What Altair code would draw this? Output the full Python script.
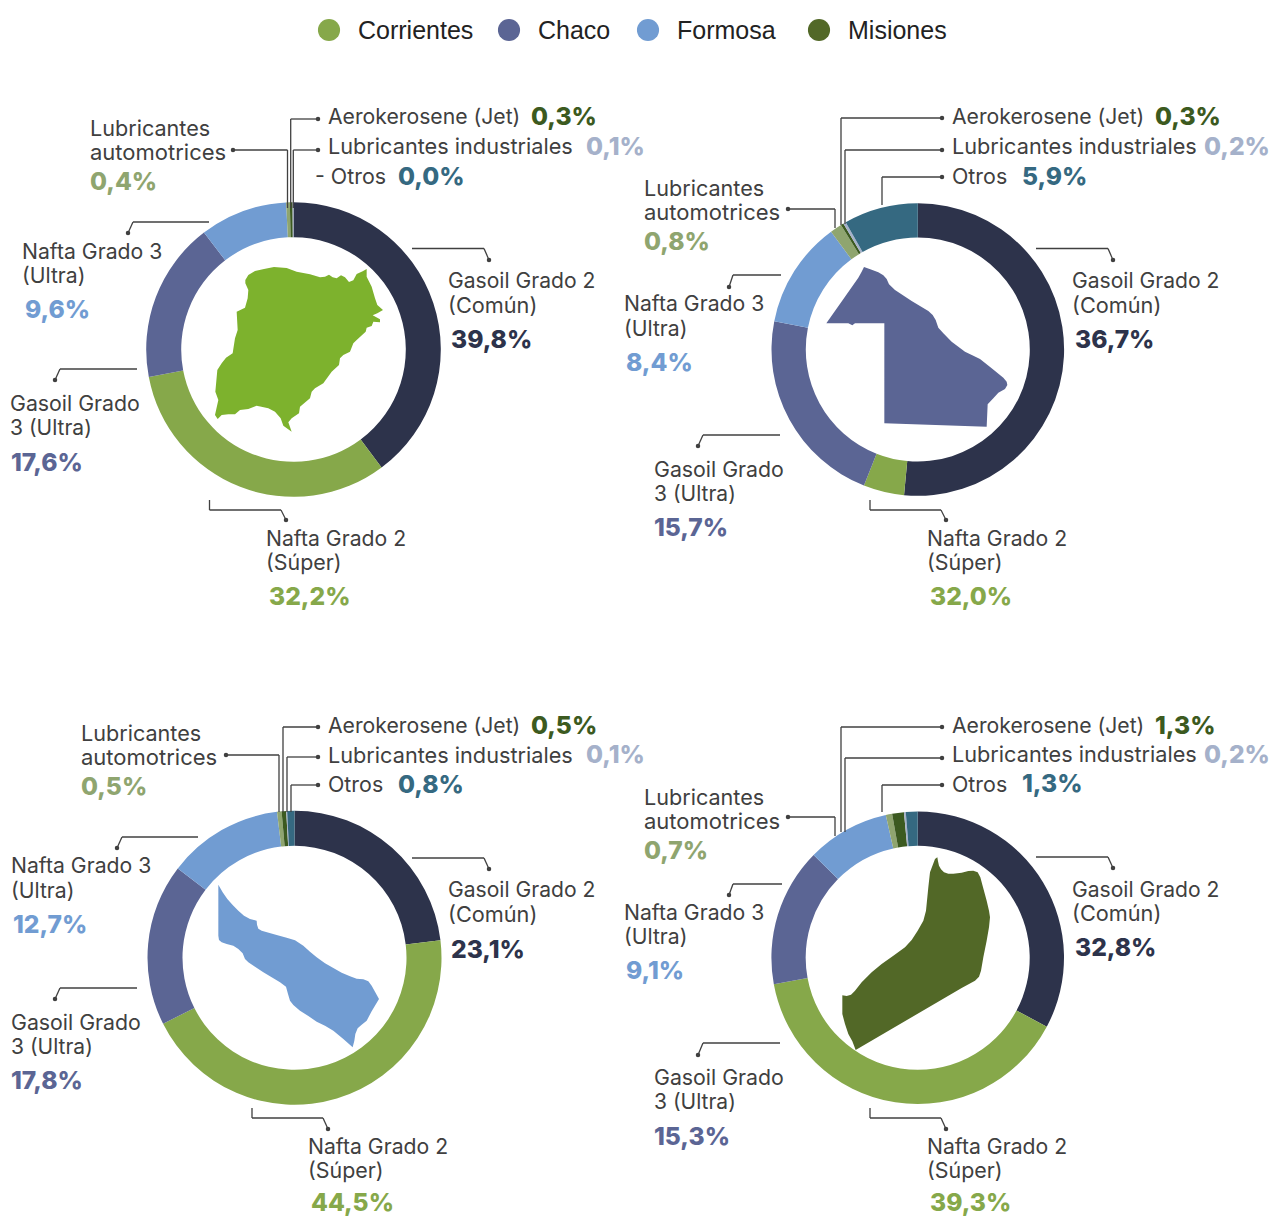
import altair as alt
import pandas as pd

# ---------- values ----------
PRODUCTS = ["Gasoil Grado 2", "Nafta Grado 2", "Gasoil Grado 3", "Nafta Grado 3",
            "Lubricantes automotrices", "Aerokerosene", "Lubricantes industriales", "Otros"]
PRODUCT_COLORS = ["#2d334b", "#86a84a", "#5b6594", "#719cd2", "#8fa56f", "#3c5a20", "#a5b1ca", "#356981"]
PCT_COLORS = ["#2d334b", "#86a84a", "#5b6594", "#719cd2", "#8fa56f", "#3c5a20", "#a5b1ca", "#356981"]

LABEL_CORRIENTES = [39.8, 32.2, 17.6, 9.6, 0.4, 0.3, 0.1, 0.0]
LABEL_CHACO = [36.7, 32.0, 15.7, 8.4, 0.8, 0.3, 0.2, 5.9]
LABEL_FORMOSA = [23.1, 44.5, 17.8, 12.7, 0.5, 0.5, 0.1, 0.8]
LABEL_MISIONES = [32.8, 39.3, 15.3, 9.1, 0.7, 1.3, 0.2, 1.3]
# The Chaco ring as drawn does not follow its printed labels
ARC_CHACO = [51.5, 4.5, 22.1, 11.8, 1.3, 0.3, 0.3, 8.2]

LEGEND_NAMES = ["Corrientes", "Chaco", "Formosa", "Misiones"]
LEGEND_COLORS = ["#86a84a", "#5b6594", "#719cd2", "#526827"]
MAP_COLORS = ["#7db22d", "#5b6594", "#719cd2", "#526827"]

# Province outlines, traced
OUTLINE_CORRIENTES = [(316,255),(325,240),(345,228),(372,222),(402,216),(440,219),(470,230),(510,238),(540,247),(555,245),(567,239),(578,247),(590,250),(603,241),(615,247),(627,261),(640,256),(650,237),(668,229),(680,222),(680,245),(695,275),(705,310),(712,330),(729,345),(712,355),(698,361),(720,373),(720,382),(700,380),(695,393),(680,398),(677,410),(650,435),(640,445),(630,470),(610,480),(600,490),(597,510),(575,530),(550,565),(525,580),(515,590),(510,610),(480,635),(477,655),(455,670),(445,682),(455,710),(430,692),(422,670),(405,650),(385,640),(350,632),(325,642),(300,645),(285,658),(265,658),(245,660),(233,672),(225,660),(235,615),(226,590),(232,525),(245,505),(258,488),(278,475),(285,430),(293,405),(290,350),(315,338),(323,310),(325,285),(316,265)]
OUTLINE_CHACO = [(297,216),(320,224),(340,232),(355,241),(365,252),(372,268),(390,285),(440,318),(490,348),(503,360),(512,375),(520,398),(535,415),(560,440),(600,470),(625,482),(645,492),(680,520),(715,548),(725,560),(727,570),(720,582),(700,593),(685,610),(668,628),(665,695),(358,685),(358,385),(270,385),(262,391),(250,385),(184,385),(240,305),(280,248),(290,230)]
OUTLINE_FORMOSA = [(235,242),(248,265),(262,285),(278,303),(295,320),(312,335),(330,345),(350,350),(351,362),(355,374),(365,380),(410,393),(440,401),(465,409),(490,425),(510,443),(530,460),(555,478),(580,492),(605,506),(630,517),(650,524),(670,526),(685,532),(695,545),(705,563),(717,585),(708,600),(695,622),(680,650),(665,662),(653,673),(646,690),(643,710),(638,730),(610,705),(580,680),(555,665),(530,653),(505,636),(480,620),(460,603),(450,590),(444,570),(438,548),(420,535),(395,520),(370,505),(345,488),(325,475),(315,465),(308,448),(295,435),(280,425),(260,420),(245,415),(237,408),(235,395)]
OUTLINE_MISIONES = [(510,165),(517,160),(519,172),(522,185),(528,196),(537,205),(550,209),(565,209),(590,206),(610,201),(625,200),(638,205),(646,220),(652,242),(665,290),(672,320),(675,340),(672,370),(665,410),(655,460),(648,500),(642,518),(630,530),(590,552),(272,738),(262,712),(250,690),(240,660),(232,630),(232,574),(245,576),(258,572),(270,560),(290,535),(320,505),(350,480),(385,455),(420,430),(440,408),(458,380),(475,350),(483,320),(487,280),(490,250),(495,205)]

# ---------- layout (page pixels) ----------
M = 8
FONT = "Inter"
TXT = "#404040"
PCT_SIZE = 24.6
# font sizes that give each label the printed width of the reference
LABEL_FIT = {"Lubricantes industriales": 21.7, "automotrices": 22, "Lubricantes": 21.6,
             "Aerokerosene (Jet)": 21.2, "Gasoil Grado 2": 21.1, "Nafta Grado 2": 21.2,
             "Nafta Grado 3": 21.2, "Gasoil Grado": 21.3, "3 (Ultra)": 21, "(Común)": 21.7,
             "(Súper)": 21.4, "(Ultra)": 21.2, "Otros": 21.4, "- Otros": 21.4}

# every leader runs from the ring to its dot: the last point carries the dot
PANELS = [
    dict(labels=LABEL_CORRIENTES, arcs=LABEL_CORRIENTES, c=(293.5, 349.5), R=147.3, r=112.3,
         outline=OUTLINE_CORRIENTES, off=(140, 195),
         txt=[(["Gasoil Grado 2", "(Común)"], 448, [288, 313], 451, 348),
              (["Nafta Grado 2", "(Súper)"], 266, [546, 570], 269, 605),
              (["Gasoil Grado", "3 (Ultra)"], 10, [411, 435], 11, 471),
              (["Nafta Grado 3", "(Ultra)"], 22, [259, 283], 25, 318),
              (["Lubricantes", "automotrices"], 90, [136, 160], 90, 190),
              (["Aerokerosene (Jet)"], 328, [124], 531, 125),
              (["Lubricantes industriales"], 328, [154], 586, 155),
              (["- Otros"], 315, [184], 398, 185)],
         lines=[[(412,248.5),(484,248.5),(489,260)], [(209.5,500),(209.5,510),(281,510),(286,520)],
                [(137,369),(60,369),(55,380)], [(209,222),(133,222),(128,233)],
                [(287.5,208),(287.5,150),(233,150)], [(290.7,208),(290.7,119),(318,119)],
                [(293.3,208),(293.3,150),(318,150)]]),
    dict(labels=LABEL_CHACO, arcs=ARC_CHACO, c=(917.8, 349.5), R=146.3, r=112,
         outline=OUTLINE_CHACO, off=(765, 195),
         txt=[(["Gasoil Grado 2", "(Común)"], 1072, [288, 313], 1075, 348),
              (["Nafta Grado 2", "(Súper)"], 927, [546, 570], 930, 605),
              (["Gasoil Grado", "3 (Ultra)"], 654, [477, 501], 654, 536),
              (["Nafta Grado 3", "(Ultra)"], 624, [311, 336], 626, 371),
              (["Lubricantes", "automotrices"], 644, [196, 220], 644, 250),
              (["Aerokerosene (Jet)"], 952, [124], 1155, 125),
              (["Lubricantes industriales"], 952, [154], 1204, 155),
              (["Otros"], 952, [184], 1022, 185)],
         lines=[[(1036,248.5),(1108,248.5),(1113,260)], [(870,500),(870,510),(941,510),(946,520)],
                [(780,435),(703,435),(698,446)], [(781,275),(733,275),(729,287)],
                [(835,228),(835,209),(788,209)], [(841,225),(841,118),(942,118)],
                [(845,224),(845,150),(942,150)], [(882,205),(882,177),(942,177)]]),
    dict(labels=LABEL_FORMOSA, arcs=LABEL_FORMOSA, c=(294.5, 957.8), R=147, r=112,
         outline=OUTLINE_FORMOSA, off=(140, 804),
         txt=[(["Gasoil Grado 2", "(Común)"], 448, [897, 922], 451, 958),
              (["Nafta Grado 2", "(Súper)"], 308, [1154, 1178], 311, 1211),
              (["Gasoil Grado", "3 (Ultra)"], 11, [1030, 1054], 11, 1089),
              (["Nafta Grado 3", "(Ultra)"], 11, [873, 898], 13, 933),
              (["Lubricantes", "automotrices"], 81, [741, 765], 81, 795),
              (["Aerokerosene (Jet)"], 328, [733], 531, 734),
              (["Lubricantes industriales"], 328, [763], 586, 763),
              (["Otros"], 328, [792], 398, 793)],
         lines=[[(412,858),(484,858),(489,869)], [(252,1108),(252,1118),(323,1118),(328,1129)],
                [(137,988),(60,988),(55,999)], [(198,837),(122,837),(117,848)],
                [(279,812),(279,755),(226,755)], [(283,812),(283,727),(318,727)],
                [(287,812),(287,757),(318,757)], [(291,812),(291,785),(318,785)]]),
    dict(labels=LABEL_MISIONES, arcs=LABEL_MISIONES, c=(917.7, 957.8), R=146.3, r=112,
         outline=OUTLINE_MISIONES, off=(765, 804),
         txt=[(["Gasoil Grado 2", "(Común)"], 1072, [897, 921], 1075, 956),
              (["Nafta Grado 2", "(Súper)"], 927, [1154, 1178], 930, 1211),
              (["Gasoil Grado", "3 (Ultra)"], 654, [1085, 1109], 654, 1145),
              (["Nafta Grado 3", "(Ultra)"], 624, [920, 944], 626, 979),
              (["Lubricantes", "automotrices"], 644, [805, 829], 644, 859),
              (["Aerokerosene (Jet)"], 952, [733], 1155, 734),
              (["Lubricantes industriales"], 952, [762], 1204, 763),
              (["Otros"], 952, [792], 1022, 792)],
         lines=[[(1036,857),(1108,857),(1113,868)], [(870,1108),(870,1118),(941,1118),(946,1129)],
                [(780,1043),(703,1043),(698,1055)], [(782,884),(733,884),(729,895)],
                [(835,836),(835,817),(788,817)], [(841,832),(841,727),(942,727)],
                [(845,832),(845,758),(942,758)], [(882,812),(882,785),(942,785)]]),
]
LEGEND_DOT_X = [329, 509, 648, 819]
LEGEND_TEXT_X = [358, 538, 677, 848]

# ---------- build tables ----------
px_x = lambda f: alt.X(f, scale=None, axis=None)
px_y = lambda f: alt.Y(f, scale=None, axis=None)
color_scale = alt.Scale(domain=PRODUCTS, range=PRODUCT_COLORS)

layers = []
label_rows, pct_rows, seg_rows, dot_rows = [], [], [], []
for p in PANELS:
    arc_df = pd.DataFrame({"product": PRODUCTS, "value": p["arcs"], "idx": range(len(PRODUCTS))})
    layers.append(
        alt.Chart(arc_df).mark_arc(radius=p["R"], radius2=p["r"]).encode(
            theta=alt.Theta("value:Q", stack=True, scale=alt.Scale(domain=[0, 100])),
            order=alt.Order("idx:Q"),
            color=alt.Color("product:N", scale=color_scale, legend=None),
            x=alt.value(p["c"][0] - M),
            y=alt.value(p["c"][1] - M),
        )
    )
    for i, (lines, lx, lys, qx, qy) in enumerate(p["txt"]):
        for t, ly in zip(lines, lys):
            label_rows.append({"t": t, "x": lx - M, "y": ly - M, "s": LABEL_FIT[t]})
        pct_rows.append({"t": f"{p['labels'][i]:.1f}%".replace(".", ","), "x": qx - M, "y": qy - M,
                         "c": PCT_COLORS[i]})
    for poly in p["lines"]:
        for a, b in zip(poly[:-1], poly[1:]):
            seg_rows.append({"x": a[0] - M, "y": a[1] - M, "x2": b[0] - M, "y2": b[1] - M})
        dot_rows.append({"x": poly[-1][0] - M, "y": poly[-1][1] - M})

for i, p in enumerate(PANELS):
    ring = [[p["off"][0] + x / 3 - M, p["off"][1] + y / 3 - M] for x, y in p["outline"]]
    ring.append(ring[0])
    feature = {"type": "Feature", "properties": {}, "geometry": {"type": "Polygon", "coordinates": [ring]}}
    layers.append(
        alt.Chart(alt.Data(values=[feature])).mark_geoshape(fill=MAP_COLORS[i], strokeWidth=0).project(
            type="identity", scale=1, translate=[0, 0]
        )
    )

seg_df = pd.DataFrame(seg_rows)
layers.append(alt.Chart(seg_df).mark_rule(color=TXT, strokeWidth=1.3).encode(
    x=px_x("x:Q"), y=px_y("y:Q"), x2="x2:Q", y2="y2:Q"))
layers.append(alt.Chart(pd.DataFrame(dot_rows)).mark_circle(color=TXT, opacity=1, size=20).encode(
    x=px_x("x:Q"), y=px_y("y:Q")))
layers.append(alt.Chart(pd.DataFrame(label_rows)).mark_text(
    font=FONT, align="left", baseline="alphabetic", color=TXT).encode(
    x=px_x("x:Q"), y=px_y("y:Q"), text="t:N", size=alt.Size("s:Q", scale=None, legend=None)))
layers.append(alt.Chart(pd.DataFrame(pct_rows)).mark_text(
    font=FONT, fontSize=PCT_SIZE, fontWeight=800, align="left", baseline="alphabetic").encode(
    x=px_x("x:Q"), y=px_y("y:Q"), text="t:N", color=alt.Color("c:N", scale=None)))

leg_df = pd.DataFrame({"name": LEGEND_NAMES, "c": LEGEND_COLORS,
                       "dx": [v - M for v in LEGEND_DOT_X], "tx": [v - M for v in LEGEND_TEXT_X],
                       "y": [30 - M] * 4, "by": [39 - M] * 4})
layers.append(alt.Chart(leg_df).mark_circle(opacity=1, size=491).encode(
    x=px_x("dx:Q"), y=px_y("y:Q"), color=alt.Color("c:N", scale=None)))
layers.append(alt.Chart(leg_df).mark_text(
    font="Liberation Sans", fontSize=25, align="left", baseline="alphabetic", color="#222222").encode(
    x=px_x("tx:Q"), y=px_y("by:Q"), text="name:N"))

chart = alt.layer(*layers).properties(
    width=1261, height=1209, padding=0, autosize=alt.AutoSizeParams(type="none"),
).resolve_scale(color="independent").configure_view(stroke=None)

chart.save("out.html", embed_options={"renderer": "svg", "actions": False})
